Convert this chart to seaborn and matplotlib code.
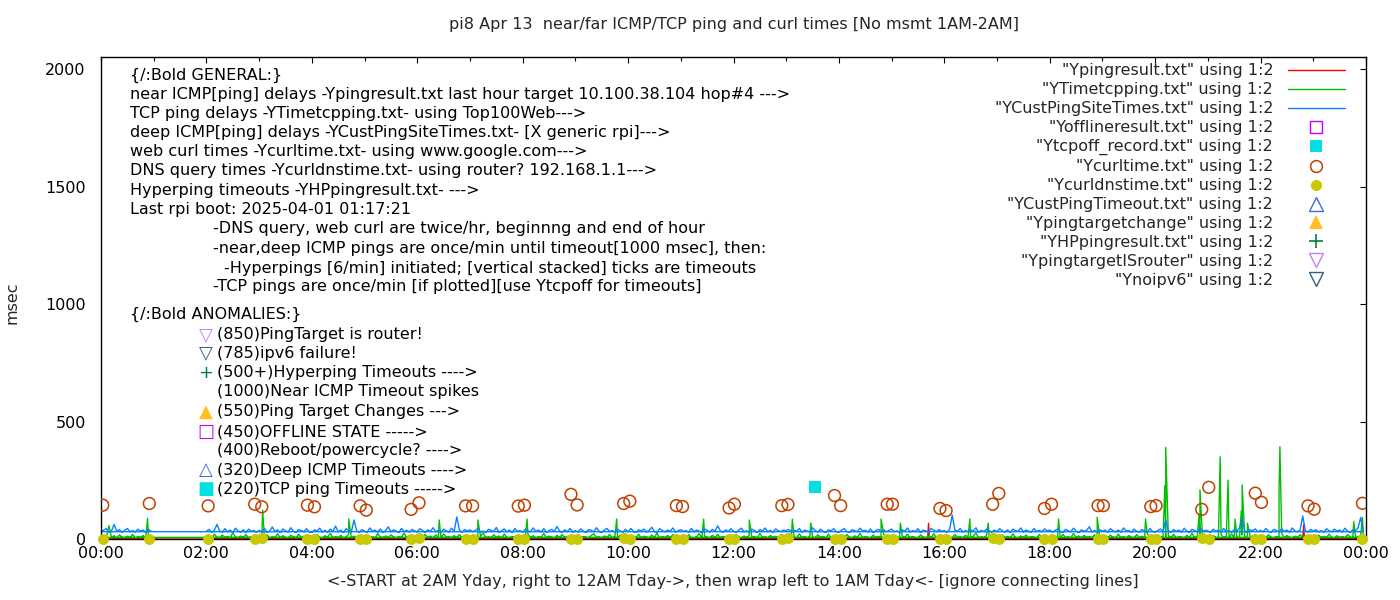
import numpy as np
import pandas as pd
import matplotlib
matplotlib.use("Agg")
import matplotlib.pyplot as plt
from matplotlib.lines import Line2D
from matplotlib.ticker import MultipleLocator
import seaborn as sns

# ---------------- data ----------------
TITLE = "pi8 Apr 13  near/far ICMP/TCP ping and curl times [No msmt 1AM-2AM]"
XLABEL = "<-START at 2AM Yday, right to 12AM Tday->, then wrap left to 1AM Tday<- [ignore connecting lines]"
YLABEL = "msec"

xtick_hours = [0, 2, 4, 6, 8, 10, 12, 14, 16, 18, 20, 22, 24]
xtick_labels = ["00:00", "02:00", "04:00", "06:00", "08:00", "10:00", "12:00",
                "14:00", "16:00", "18:00", "20:00", "22:00", "00:00"]
ytick_vals = [0, 500, 1000, 1500, 2000]

SAMPLE_MIN = 3  # spacing of the base samples (minutes)

# deep ICMP (YCustPingSiteTimes) 02:00 .. 23:57 yesterday
blue_day = [
    33, 41, 28, 37, 62, 35, 29, 44, 31, 38, 27, 46, 34, 30, 39, 28, 42, 33, 36, 29,   # 02
    37, 30, 45, 28, 34, 51, 32, 39, 27, 43, 35, 30, 48, 33, 29, 40, 36, 31, 44, 30,   # 03
    28, 39, 34, 46, 30, 37, 29, 42, 33, 55, 31, 38, 27, 44, 36, 30, 81, 35, 29, 40,   # 04
    34, 29, 47, 33, 38, 30, 43, 28, 36, 52, 31, 39, 34, 27, 45, 32, 37, 30, 41, 35,   # 05
    30, 44, 36, 29, 39, 33, 48, 31, 37, 28, 42, 35, 30, 46, 33, 94, 38, 29, 40, 34,   # 06
    39, 31, 36, 45, 30, 34, 28, 41, 37, 32, 49, 29, 35, 43, 31, 38, 27, 44, 33, 36,   # 07
    29, 42, 35, 31, 47, 33, 38, 30, 44, 28, 36, 41, 32, 53, 34, 29, 39, 31, 45, 30,   # 08
    36, 30, 43, 34, 29, 40, 37, 31, 48, 33, 28, 38, 45, 32, 36, 30, 42, 35, 29, 41,   # 09
    31, 45, 33, 28, 39, 35, 42, 30, 37, 50, 32, 29, 44, 36, 31, 38, 33, 47, 30, 35,   # 10
    40, 32, 36, 29, 45, 31, 38, 34, 28, 43, 37, 30, 41, 33, 56, 35, 29, 39, 32, 44,   # 11
    33, 29, 38, 46, 31, 35, 30, 42, 36, 28, 40, 34, 47, 31, 37, 29, 43, 35, 32, 38,   # 12
    35, 41, 30, 37, 33, 45, 29, 38, 34, 31, 48, 36, 30, 42, 33, 28, 39, 35, 44, 31,   # 13
    30, 38, 44, 32, 29, 40, 35, 31, 46, 34, 37, 30, 43, 28, 36, 41, 33, 39, 31, 37,   # 14
    42, 31, 35, 29, 39, 33, 47, 30, 36, 32, 44, 28, 38, 34, 30, 45, 37, 31, 40, 33,   # 15
    36, 29, 41, 102, 38, 33, 45, 30, 36, 31, 39, 34, 48, 29, 37, 32, 42, 35, 30, 38,  # 16
    31, 44, 35, 30, 39, 28, 42, 36, 33, 47, 30, 38, 34, 29, 45, 32, 37, 31, 43, 35,   # 17
    38, 30, 36, 43, 32, 29, 41, 35, 31, 46, 34, 28, 39, 33, 37, 52, 30, 36, 31, 40,   # 18
    33, 39, 29, 44, 35, 31, 38, 30, 47, 34, 36, 29, 42, 33, 30, 40, 35, 28, 45, 32,   # 19
    30, 36, 43, 31, 81, 35, 29, 40, 33, 38, 30, 46, 34, 29, 41, 36, 31, 48, 33, 37,   # 20
    35, 29, 42, 33, 38, 30, 45, 31, 36, 29, 40, 34, 48, 88, 33, 30, 39, 35, 43, 31,   # 21
    37, 31, 45, 33, 29, 41, 36, 30, 44, 32, 38, 29, 47, 34, 31, 39, 98, 35, 30, 41,   # 22
    33, 40, 30, 36, 29, 44, 35, 31, 42, 34, 38, 30, 46, 33, 29, 39, 35, 48, 92, 31,   # 23
]
# deep ICMP 00:00 .. 00:57 today (after the wrap)
blue_wrap = [31, 38, 44, 30, 35, 62, 33, 40, 29, 37, 45, 31, 36, 30, 42, 34, 38, 29, 41, 33]

# TCP ping (YTimetcpping) 02:00 .. 23:57 yesterday
green_day = [
    6, 14, 4, 21, 8, 5, 17, 7, 11, 4, 27, 9, 5, 13, 6, 19, 4, 10, 7, 15,      # 02
    5, 12, 8, 18, 4, 9, 6, 22, 5, 14, 7, 4, 16, 10, 5, 20, 6, 12, 4, 9,       # 03
    11, 5, 19, 7, 4, 14, 8, 24, 5, 10, 6, 16, 4, 9, 21, 5, 12, 7, 4, 15,      # 04
    7, 17, 5, 10, 4, 23, 8, 6, 13, 5, 18, 9, 4, 11, 6, 25, 5, 14, 7, 4,       # 05
    13, 6, 9, 20, 5, 12, 4, 17, 8, 5, 22, 7, 11, 4, 15, 6, 19, 5, 10, 8,      # 06
    5, 16, 7, 4, 12, 26, 6, 9, 5, 18, 8, 13, 4, 21, 7, 5, 11, 6, 17, 4,       # 07
    9, 5, 20, 6, 14, 4, 10, 7, 24, 5, 12, 8, 4, 16, 6, 19, 5, 11, 7, 13,      # 08
    6, 18, 4, 11, 8, 5, 15, 22, 6, 9, 4, 13, 7, 20, 5, 10, 6, 17, 4, 12,      # 09
    14, 5, 9, 6, 21, 4, 12, 8, 5, 17, 7, 25, 4, 10, 6, 15, 5, 19, 8, 4,       # 10
    7, 12, 5, 18, 6, 4, 10, 23, 5, 13, 8, 4, 16, 6, 20, 5, 11, 7, 14, 5,      # 11
    5, 20, 8, 4, 13, 6, 17, 5, 11, 4, 24, 7, 9, 5, 15, 6, 12, 4, 19, 8,       # 12
    12, 4, 16, 7, 5, 22, 6, 10, 4, 14, 8, 5, 18, 6, 11, 4, 21, 7, 9, 5,       # 13
    6, 11, 5, 19, 8, 4, 14, 6, 25, 5, 10, 7, 4, 17, 6, 12, 5, 20, 8, 4,       # 14
    16, 5, 9, 4, 13, 7, 21, 5, 11, 6, 4, 18, 8, 5, 14, 6, 23, 4, 10, 7,       # 15
    5, 14, 7, 4, 19, 6, 10, 5, 16, 8, 4, 12, 26, 5, 9, 6, 15, 4, 20, 7,       # 16
    9, 4, 18, 6, 11, 5, 22, 7, 4, 13, 6, 17, 5, 10, 8, 4, 19, 6, 12, 5,       # 17
    7, 15, 5, 12, 4, 20, 6, 9, 5, 24, 7, 13, 4, 16, 6, 11, 5, 18, 8, 4,       # 18
    13, 6, 4, 17, 8, 5, 21, 6, 10, 4, 15, 7, 5, 19, 6, 12, 4, 23, 8, 5,       # 19
    5, 18, 7, 11, 4, 14, 6, 20, 5, 9, 8, 4, 16, 6, 25, 5, 12, 7, 4, 17,       # 20
    10, 5, 15, 6, 4, 19, 7, 12, 5, 22, 6, 9, 4, 17, 8, 5, 13, 6, 20, 4,       # 21
    6, 13, 5, 18, 7, 4, 11, 6, 24, 5, 15, 8, 4, 12, 6, 19, 5, 10, 7, 16,      # 22
    8, 4, 17, 6, 12, 5, 21, 7, 4, 14, 6, 10, 5, 19, 8, 4, 13, 6, 18, 7,       # 23
]
green_wrap = [7, 11, 5, 57, 6, 14, 4, 18, 8, 5, 12, 6, 20, 4, 9, 7, 15, 5, 10, 6]

# larger TCP ping spikes
green_spike_times = ["00:53", "03:04", "04:42", "06:25", "07:09", "08:05", "09:47",
                     "11:26", "12:18", "13:07", "13:28", "14:48", "15:10", "16:29",
                     "16:50", "18:10", "18:54", "19:49", "20:11", "20:12", "20:50",
                     "20:51", "21:13", "21:14", "21:22", "21:23", "21:31", "21:38",
                     "21:39", "21:45", "22:21", "22:22", "23:46", "23:56"]
green_spike_vals = [88, 123, 85, 81, 81, 85, 85,
                    85, 81, 85, 68, 85, 68, 85,
                    68, 85, 92, 85, 228, 390, 102,
                    209, 180, 350, 138, 251, 85, 119,
                    230, 67, 202, 393, 74, 92]

# near ICMP (Ypingresult) - mostly hidden on the baseline
red_times = ["02:00", "15:41", "15:42", "15:43", "22:48", "22:49", "22:50", "23:59",
             "00:00", "00:58"]
red_vals = [0, 0, 67, 0, 0, 60, 0, 0, 0, 0]

# web curl times (Ycurltime) and DNS query times (Ycurldnstime)
curl_times = ["00:02", "00:55", "02:02", "02:55", "03:03", "03:55", "04:03", "04:55",
              "05:02", "05:53", "06:02", "06:55", "07:03", "07:55", "08:02", "08:55",
              "09:02", "09:55", "10:02", "10:55", "11:02", "11:55", "12:01", "12:55",
              "13:02", "13:55", "14:02", "14:55", "15:01", "15:55", "16:02", "16:55",
              "17:02", "17:54", "18:02", "18:55", "19:01", "19:55", "20:01", "20:53",
              "21:01", "21:54", "22:01", "22:54", "23:01", "23:56"]
curl_vals = [144, 151, 141, 148, 137, 144, 137, 141,
             123, 126, 154, 141, 141, 140, 144, 190,
             145, 151, 161, 142, 138, 132, 148, 142,
             147, 185, 142, 148, 148, 130, 121, 148,
             194, 130, 148, 142, 142, 138, 142, 126,
             220, 195, 156, 141, 127, 152]
dns_vals = [2, 1, 2, 1, 3, 2, 1, 2,
            1, 2, 3, 1, 2, 1, 2, 1,
            2, 3, 1, 2, 1, 2, 2, 1,
            3, 1, 2, 2, 1, 2, 1, 3,
            2, 1, 2, 1, 2, 2, 1, 3,
            2, 1, 2, 1, 2, 2]

# TCP ping timeouts (Ytcpoff_record)
tcpoff_times = ["13:33"]
tcpoff_vals = [220]

legend_labels = ['"Ypingresult.txt" using 1:2', '"YTimetcpping.txt" using 1:2',
                 '"YCustPingSiteTimes.txt" using 1:2', '"Yofflineresult.txt" using 1:2',
                 '"Ytcpoff_record.txt" using 1:2', '"Ycurltime.txt" using 1:2',
                 '"Ycurldnstime.txt" using 1:2', '"YCustPingTimeout.txt" using 1:2',
                 '"Ypingtargetchange" using 1:2', '"YHPpingresult.txt" using 1:2',
                 '"YpingtargetISrouter" using 1:2', '"Ynoipv6" using 1:2']

general_lines = ["{/:Bold GENERAL:}",
                 "near ICMP[ping] delays -Ypingresult.txt last hour target 10.100.38.104 hop#4 --->",
                 "TCP ping delays -YTimetcpping.txt- using Top100Web--->",
                 "deep ICMP[ping] delays -YCustPingSiteTimes.txt- [X generic rpi]--->",
                 "web curl times -Ycurltime.txt- using www.google.com--->",
                 "DNS query times -Ycurldnstime.txt- using router? 192.168.1.1--->",
                 "Hyperping timeouts -YHPpingresult.txt- --->",
                 "Last rpi boot: 2025-04-01 01:17:21"]
note_lines = ["-DNS query, web curl are twice/hr, beginnng and end of hour",
              "-near,deep ICMP pings are once/min until timeout[1000 msec], then:",
              "-Hyperpings [6/min] initiated; [vertical stacked] ticks are timeouts",
              "-TCP pings are once/min [if plotted][use Ytcpoff for timeouts]"]
anomaly_header = "{/:Bold ANOMALIES:}"
anomaly_lines = ["(850)PingTarget is router!", "(785)ipv6 failure!",
                 "(500+)Hyperping Timeouts ---->", "(1000)Near ICMP Timeout spikes",
                 "(550)Ping Target Changes --->", "(450)OFFLINE STATE ----->",
                 "(400)Reboot/powercycle? ---->", "(320)Deep ICMP Timeouts ---->",
                 "(220)TCP ping Timeouts ----->"]
anomaly_glyphs = ["\u25BD", "\u25BD", "+", "", "\u25B2", "\u25A1", "", "\u25B3", "\u25A0"]

# ---------------- styles ----------------
C_RED, C_GREEN, C_BLUE = "#ff0000", "#00c000", "#0a80ff"
C_OFF, C_TCPOFF, C_CURL, C_DNS = "#c000ff", "#00e0e0", "#c04000", "#c8c800"
C_CPTO, C_PTC, C_HP, C_ISR, C_V6 = "#4169e1", "#ffc020", "#008040", "#c080ff", "#306080"
anomaly_colors = [C_ISR, C_V6, C_HP, None, C_PTC, C_OFF, None, C_CPTO, C_TCPOFF]
FS = 11.5


def hm(s):
    h, m = s.split(":")
    return int(h) + int(m) / 60.0


def build(day_vals, wrap_vals, extra_t=(), extra_v=()):
    day_t = 2 + np.arange(len(day_vals)) * SAMPLE_MIN / 60.0
    wrap_t = np.arange(len(wrap_vals)) * SAMPLE_MIN / 60.0
    parts = [pd.DataFrame({"t": day_t, "v": day_vals, "seg": 0}),
             pd.DataFrame({"t": wrap_t, "v": wrap_vals, "seg": 1})]
    if len(extra_t):
        et = np.array([hm(s) for s in extra_t])
        parts.append(pd.DataFrame({"t": et, "v": list(extra_v),
                                   "seg": np.where(et >= 2, 0, 1)}))
    df = pd.concat(parts, ignore_index=True)
    return df.sort_values(["seg", "t"], kind="stable").reset_index(drop=True)


blue_df = build(blue_day, blue_wrap)
green_df = build(green_day, green_wrap, green_spike_times, green_spike_vals)
rt = np.array([hm(s) for s in red_times])
red_df = pd.DataFrame({"t": rt, "v": red_vals, "seg": np.where(rt >= 2, 0, 1)})
curl_df = pd.DataFrame({"t": [hm(s) for s in curl_times], "curl": curl_vals, "dns": dns_vals})
tcpoff_df = pd.DataFrame({"t": [hm(s) for s in tcpoff_times], "v": tcpoff_vals})

# ---------------- figure ----------------
sns.set_theme(style="white")
plt.rcParams["font.family"] = ["DejaVu Sans"]
plt.rcParams["axes.edgecolor"] = "black"
plt.rcParams["axes.linewidth"] = 1.0

fig = plt.figure(figsize=(14, 6), dpi=100)
fig.patch.set_facecolor("white")
W, H = 1400.0, 600.0
ax = fig.add_axes([101 / W, 61 / H, 1265 / W, 481.7 / H])

sns.lineplot(data=red_df, x="t", y="v", sort=False, estimator=None, color=C_RED, lw=1, ax=ax)
sns.lineplot(data=green_df, x="t", y="v", sort=False, estimator=None, color=C_GREEN, lw=1, ax=ax)
sns.lineplot(data=blue_df, x="t", y="v", sort=False, estimator=None, color=C_BLUE, lw=1, ax=ax)

sns.scatterplot(data=curl_df, x="t", y="curl", marker="o", s=72, facecolor="none",
                edgecolor=C_CURL, linewidth=1.1, ax=ax, zorder=4)
sns.scatterplot(data=curl_df, x="t", y="dns", marker="o", s=62, color=C_DNS,
                edgecolor=C_DNS, linewidth=0, ax=ax, zorder=4, clip_on=False)
sns.scatterplot(data=tcpoff_df, x="t", y="v", marker="s", s=80, color=C_TCPOFF,
                edgecolor=C_TCPOFF, linewidth=0, ax=ax, zorder=4)

ax.set_xlim(0, 24)
ax.set_ylim(0, 2050)
ax.set_xticks(xtick_hours)
ax.set_xticklabels(xtick_labels)
ax.set_yticks(ytick_vals)
ax.set_yticklabels([str(v) for v in ytick_vals])
ax.xaxis.set_minor_locator(MultipleLocator(1))
ax.tick_params(which="both", direction="in", top=True, right=True, colors="black",
               labelsize=FS)
ax.tick_params(which="major", length=4.5, width=0.8)
ax.tick_params(which="minor", length=3, width=0.8)
ax.tick_params(axis="x", which="major", pad=5)
ax.tick_params(axis="y", which="major", pad=11)
for sp in ax.spines.values():
    sp.set_visible(True)
    sp.set_color("black")
    sp.set_linewidth(1.0)

ax.set_xlabel(XLABEL, fontsize=FS)
ax.xaxis.set_label_coords((733 - 101) / 1265, (539 - 574) / 481.7)
ax.set_ylabel(YLABEL, fontsize=FS)
ax.yaxis.set_label_coords((20 - 101) / 1265, (539 - 303) / 481.7)
fig.suptitle(TITLE, x=734 / W, y=1 - 25 / H, va="center", fontsize=FS)

# legend
handles = [
    Line2D([], [], color=C_RED, lw=1),
    Line2D([], [], color=C_GREEN, lw=1),
    Line2D([], [], color=C_BLUE, lw=1),
    Line2D([], [], ls="none", marker="s", ms=8.5, mfc="none", mec=C_OFF, mew=1),
    Line2D([], [], ls="none", marker="s", ms=9, mfc=C_TCPOFF, mec=C_TCPOFF, mew=0),
    Line2D([], [], ls="none", marker="o", ms=8.5, mfc="none", mec=C_CURL, mew=1.1),
    Line2D([], [], ls="none", marker="o", ms=8, mfc=C_DNS, mec=C_DNS, mew=0),
    Line2D([], [], ls="none", marker="^", ms=10, mfc="none", mec=C_CPTO, mew=1),
    Line2D([], [], ls="none", marker="^", ms=10, mfc=C_PTC, mec=C_PTC, mew=0),
    Line2D([], [], ls="none", marker="+", ms=10, mec=C_HP, mew=1.2),
    Line2D([], [], ls="none", marker="v", ms=10, mfc="none", mec=C_ISR, mew=1),
    Line2D([], [], ls="none", marker="v", ms=10, mfc="none", mec=C_V6, mew=1),
]
ax.legend(handles, legend_labels, loc="upper right", markerfirst=False, frameon=False,
          fontsize=FS, handlelength=3.6, handletextpad=0.9, labelspacing=0.245,
          borderaxespad=0, borderpad=0,
          bbox_to_anchor=((1345 - 101) / 1265, (539 - 63.5) / 481.7))


def ptext(x, y, s, **kw):
    fig.text(x / W, 1 - y / H, s, ha="left", va="center", fontsize=FS, color="black", **kw)


gen_y = [75.7, 95, 113.3, 132.3, 151.7, 170.7, 190, 209]
for yy, s in zip(gen_y, general_lines):
    ptext(130, yy, s)
note_y = [229, 248, 268, 287]
note_x = [213, 213, 224, 213]
for xx, yy, s in zip(note_x, note_y, note_lines):
    ptext(xx, yy, s)
ptext(130, 314, anomaly_header)
an_y = [335, 353.3, 372.7, 391.7, 411.7, 431.7, 450.7, 470, 489.3]
for yy, g, c, s in zip(an_y, anomaly_glyphs, anomaly_colors, anomaly_lines):
    ptext(217, yy, s)
    if g:
        fig.text(206 / W, 1 - yy / H, g, ha="center", va="center", fontsize=13, color=c)

fig.savefig("out.png", dpi=100, facecolor="white")
